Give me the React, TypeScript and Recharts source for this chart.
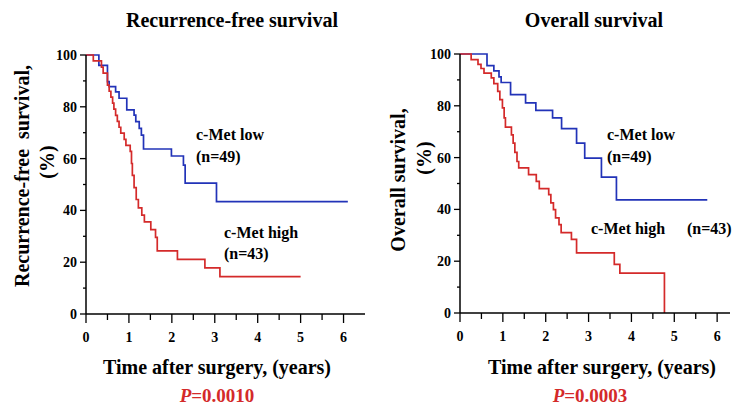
import { LineChart, Line, XAxis, YAxis } from 'recharts';

// Kaplan-Meier steps: t = years, s = survival %
const rfsLow = [
  { t: 0, s: 100 }, { t: 0.3, s: 96 }, { t: 0.5, s: 89.7 }, { t: 0.54, s: 87.8 },
  { t: 0.69, s: 85.8 }, { t: 0.77, s: 83.3 }, { t: 0.95, s: 78.8 }, { t: 1.12, s: 76.8 },
  { t: 1.16, s: 74.3 }, { t: 1.24, s: 71.7 }, { t: 1.29, s: 69.1 }, { t: 1.34, s: 63.7 },
  { t: 1.99, s: 61.0 }, { t: 2.27, s: 57.5 }, { t: 2.31, s: 50.5 }, { t: 3.04, s: 43.4 },
  { t: 6.1, s: 43.4 },
];

const rfsHigh = [
  { t: 0, s: 100 }, { t: 0.17, s: 97.7 }, { t: 0.36, s: 95.3 }, { t: 0.4, s: 93.0 },
  { t: 0.5, s: 88.4 }, { t: 0.54, s: 86.0 }, { t: 0.58, s: 83.7 }, { t: 0.62, s: 81.4 },
  { t: 0.65, s: 79.1 }, { t: 0.69, s: 76.7 }, { t: 0.73, s: 74.4 }, { t: 0.77, s: 72.1 },
  { t: 0.81, s: 69.8 }, { t: 0.89, s: 67.4 }, { t: 0.93, s: 65.1 }, { t: 1.03, s: 62.8 },
  { t: 1.06, s: 58.1 }, { t: 1.08, s: 53.5 }, { t: 1.12, s: 48.8 }, { t: 1.17, s: 44.2 },
  { t: 1.22, s: 41.0 }, { t: 1.3, s: 38.2 }, { t: 1.36, s: 35.6 }, { t: 1.51, s: 32.6 },
  { t: 1.62, s: 29.6 }, { t: 1.66, s: 24.4 }, { t: 2.13, s: 21.1 }, { t: 2.77, s: 17.8 },
  { t: 3.12, s: 14.4 }, { t: 5.0, s: 14.4 },
];

const osLow = [
  { t: 0, s: 100 }, { t: 0.63, s: 95.5 }, { t: 0.79, s: 93.5 }, { t: 0.91, s: 91.2 },
  { t: 0.96, s: 89.0 }, { t: 1.18, s: 84.3 }, { t: 1.53, s: 81.1 }, { t: 1.77, s: 78.2 },
  { t: 2.16, s: 75.3 }, { t: 2.37, s: 71.2 }, { t: 2.72, s: 65.6 }, { t: 2.91, s: 59.8 },
  { t: 3.3, s: 52.5 }, { t: 3.65, s: 43.7 }, { t: 5.77, s: 43.7 },
];

const osHigh = [
  { t: 0, s: 100 }, { t: 0.26, s: 97.8 }, { t: 0.42, s: 96.0 }, { t: 0.49, s: 94.4 },
  { t: 0.56, s: 92.6 }, { t: 0.73, s: 90.8 }, { t: 0.79, s: 88.6 }, { t: 0.88, s: 85.6 },
  { t: 0.93, s: 82.4 }, { t: 0.99, s: 79.2 }, { t: 1.03, s: 75.3 }, { t: 1.06, s: 71.8 },
  { t: 1.2, s: 68.8 }, { t: 1.24, s: 65.6 }, { t: 1.28, s: 62.0 }, { t: 1.33, s: 58.5 },
  { t: 1.37, s: 56.0 }, { t: 1.6, s: 53.4 }, { t: 1.78, s: 50.8 }, { t: 1.85, s: 48.0 },
  { t: 2.07, s: 45.7 }, { t: 2.12, s: 42.5 }, { t: 2.18, s: 39.9 }, { t: 2.23, s: 36.7 },
  { t: 2.31, s: 34.1 }, { t: 2.36, s: 31.0 }, { t: 2.6, s: 28.4 }, { t: 2.72, s: 23.2 },
  { t: 3.6, s: 18.8 }, { t: 3.73, s: 15.4 }, { t: 4.77, s: 0 },
];

const xTicks = [0, 0.5, 1, 1.5, 2, 2.5, 3, 3.5, 4, 4.5, 5, 5.5, 6];
const yTicks = [0, 10, 20, 30, 40, 50, 60, 70, 80, 90, 100];

const FONT = '"Liberation Serif", "Times New Roman", serif';
const BLUE = '#2233b8';
const RED = '#d42a2a';

const YTick = (props: any) => {
  const { x, y, payload } = props;
  const major = payload.value % 20 === 0;
  return (
    <g>
      <line x1={x - (major ? 6 : 3)} x2={x} y1={y} y2={y} stroke="#000" strokeWidth={1.3} />
      {major && (
        <text x={x - 9} y={y} dy={5} textAnchor="end" fontFamily={FONT} fontWeight="bold" fontSize={14} fill="#000">
          {payload.value}
        </text>
      )}
    </g>
  );
};

const XTick = (props: any) => {
  const { x, y, payload } = props;
  const major = Number.isInteger(payload.value);
  return (
    <g>
      <line x1={x} x2={x} y1={y} y2={y + (major ? 9 : 6)} stroke="#000" strokeWidth={1.3} />
      {major && (
        <text x={x} y={y + 28} textAnchor="middle" fontFamily={FONT} fontWeight="bold" fontSize={14} fill="#000">
          {payload.value}
        </text>
      )}
    </g>
  );
};

function KMChart({ low, high, xMax, axisX, margin }: { low: any[]; high: any[]; xMax: number; axisX: number; margin: any }) {
  return (
    <LineChart width={368} height={406} margin={margin}>
      <XAxis
        dataKey="t"
        type="number"
        domain={[0, xMax]}
        ticks={xTicks}
        tick={<XTick />}
        tickLine={false}
        tickSize={0}
        tickMargin={0}
        height={30}
        axisLine={{ stroke: '#000', strokeWidth: 1.5 }}
        allowDataOverflow
      />
      <YAxis
        type="number"
        domain={[0, 100]}
        ticks={yTicks}
        tick={<YTick />}
        tickLine={false}
        tickSize={0}
        tickMargin={0}
        width={axisX}
        interval={0}
        axisLine={{ stroke: '#000', strokeWidth: 1.5 }}
      />
      <Line data={low} dataKey="s" type="stepAfter" stroke={BLUE} strokeWidth={1.7} dot={false} isAnimationActive={false} />
      <Line data={high} dataKey="s" type="stepAfter" stroke={RED} strokeWidth={1.7} dot={false} isAnimationActive={false} />
    </LineChart>
  );
}

const txt = { fontFamily: FONT, fontWeight: 'bold' as const, fill: '#000' };

export default function App() {
  return (
    <div style={{ position: 'absolute', left: 0, top: 0, width: 736, height: 406, background: '#fff' }}>
      <div style={{ position: 'absolute', left: 0, top: 0 }}>
        <KMChart low={rfsLow} high={rfsHigh} xMax={6.5} axisX={86} margin={{ top: 55, right: 3, bottom: 62, left: 0 }} />
      </div>
      <div style={{ position: 'absolute', left: 368, top: 0 }}>
        <KMChart low={osLow} high={osHigh} xMax={6.3} axisX={92} margin={{ top: 54, right: 6, bottom: 63, left: 0 }} />
      </div>
      <svg width={736} height={406} style={{ position: 'absolute', left: 0, top: 0, pointerEvents: 'none' }}>
        <text x={232} y={27} textAnchor="middle" fontSize={20} {...txt}>Recurrence-free survival</text>
        <text x={594} y={27} textAnchor="middle" fontSize={20} {...txt}>Overall survival</text>

        <text x={22} y={176} transform="rotate(-90 22 176)" textAnchor="middle" dominantBaseline="central" fontSize={20} style={{ whiteSpace: 'pre' }} {...txt}>
          Recurrence-free  survival,
        </text>
        <text x={47} y={162} transform="rotate(-90 47 162)" textAnchor="middle" dominantBaseline="central" fontSize={20} {...txt}>(%)</text>
        <text x={398} y={180} transform="rotate(-90 398 180)" textAnchor="middle" dominantBaseline="central" fontSize={20} {...txt}>Overall survival,</text>
        <text x={424} y={158} transform="rotate(-90 424 158)" textAnchor="middle" dominantBaseline="central" fontSize={20} {...txt}>(%)</text>

        <text x={217} y={374} textAnchor="middle" fontSize={20} {...txt}>Time after surgery, (years)</text>
        <text x={602} y={374} textAnchor="middle" fontSize={20} {...txt}>Time after surgery, (years)</text>
        <text x={217} y={402} textAnchor="middle" fontSize={19} fontFamily={FONT} fontWeight="bold" fill={RED}>
          <tspan fontStyle="italic">P</tspan>=0.0010
        </text>
        <text x={590} y={402} textAnchor="middle" fontSize={19} fontFamily={FONT} fontWeight="bold" fill={RED}>
          <tspan fontStyle="italic">P</tspan>=0.0003
        </text>

        <text x={196} y={140} fontSize={16} {...txt}>c-Met low</text>
        <text x={196} y={162} fontSize={16} {...txt}>(n=49)</text>
        <text x={224} y={238} fontSize={16} {...txt}>c-Met high</text>
        <text x={224} y={259} fontSize={16} {...txt}>(n=43)</text>

        <text x={607} y={140} fontSize={16} {...txt}>c-Met low</text>
        <text x={607} y={162} fontSize={16} {...txt}>(n=49)</text>
        <text x={591} y={234} fontSize={16} {...txt}>c-Met high</text>
        <text x={687} y={234} fontSize={16} {...txt}>(n=43)</text>
      </svg>
    </div>
  );
}
